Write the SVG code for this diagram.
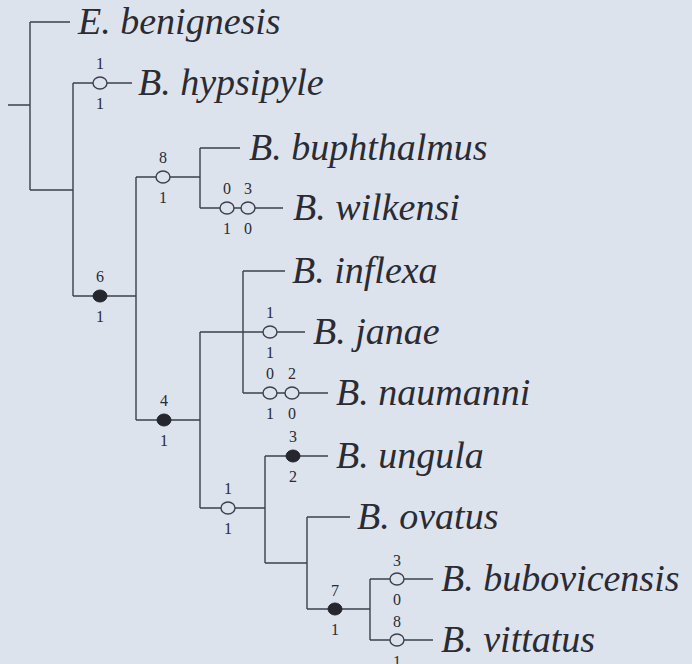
<svg xmlns="http://www.w3.org/2000/svg" width="692" height="664" viewBox="0 0 692 664">
<style>
.l{stroke:#3c3f4c;stroke-width:1.4;fill:none}
.o{stroke:#3c3f4c;stroke-width:1.4;fill:#dde3ed}
.f{fill:#25262e;stroke:#25262e;stroke-width:1}
.t{font-family:"Liberation Serif",serif;font-style:italic;font-size:38px;fill:#2a2b33}
.d{font-family:"Liberation Serif",serif;font-size:16px;fill:#2a2b33;text-anchor:middle}
</style>
<rect width="692" height="664" fill="#dde3ed"/>
<g id="connectors">
<path class="l" d="M8 105H30M30 22V190M30 22H70M30 190H73M73 83V296M73 83H132M73 296H136M136 177V420M136 177H200M200 148V208M200 148H240M200 208H283M136 420H200M200 332V508M243 271V393M243 271H285M200 332H305M243 393H328M200 508H265M265 456V563M265 456H328M265 563H307M307 517V609M307 517H350M307 609H370M370 579V640M370 579H433M370 640H433"/>
</g>
<g id="E_benignesis"><text class="t" x="78" y="34">E. benignesis</text></g>
<g id="B_hypsipyle">
<ellipse class="o" cx="100" cy="83" rx="7" ry="6"/>
<text class="d" x="100" y="69">1</text><text class="d" x="100" y="109">1</text>
<text class="t" x="138" y="95">B. hypsipyle</text></g>
<g id="node8">
<ellipse class="o" cx="163" cy="177" rx="7" ry="6"/>
<text class="d" x="163" y="163">8</text><text class="d" x="163" y="203">1</text></g>
<g id="B_buphthalmus"><text class="t" x="249" y="160">B. buphthalmus</text></g>
<g id="B_wilkensi">
<ellipse class="o" cx="227" cy="208" rx="7" ry="6"/>
<ellipse class="o" cx="248" cy="208" rx="7" ry="6"/>
<text class="d" x="227" y="194">0</text><text class="d" x="248" y="194">3</text>
<text class="d" x="227" y="234">1</text><text class="d" x="248" y="234">0</text>
<text class="t" x="293" y="220">B. wilkensi</text></g>
<g id="node6">
<ellipse class="f" cx="100" cy="296" rx="7" ry="6"/>
<text class="d" x="100" y="282">6</text><text class="d" x="100" y="322">1</text></g>
<g id="B_inflexa"><text class="t" x="292" y="283">B. inflexa</text></g>
<g id="B_janae">
<ellipse class="o" cx="270" cy="332" rx="7" ry="6"/>
<text class="d" x="270" y="318">1</text><text class="d" x="270" y="358">1</text>
<text class="t" x="313" y="344">B. janae</text></g>
<g id="B_naumanni">
<ellipse class="o" cx="270" cy="393" rx="7" ry="6"/>
<ellipse class="o" cx="292" cy="393" rx="7" ry="6"/>
<text class="d" x="270" y="379">0</text><text class="d" x="292" y="379">2</text>
<text class="d" x="270" y="419">1</text><text class="d" x="292" y="419">0</text>
<text class="t" x="336" y="405">B. naumanni</text></g>
<g id="node4">
<ellipse class="f" cx="164" cy="420" rx="7" ry="6"/>
<text class="d" x="164" y="406">4</text><text class="d" x="164" y="446">1</text></g>
<g id="B_ungula">
<ellipse class="f" cx="293" cy="456" rx="7" ry="6"/>
<text class="d" x="293" y="442">3</text><text class="d" x="293" y="482">2</text>
<text class="t" x="336" y="468">B. ungula</text></g>
<g id="node1">
<ellipse class="o" cx="228" cy="508" rx="7" ry="6"/>
<text class="d" x="228" y="494">1</text><text class="d" x="228" y="534">1</text></g>
<g id="B_ovatus"><text class="t" x="357" y="529">B. ovatus</text></g>
<g id="node7">
<ellipse class="f" cx="335" cy="609" rx="7" ry="6"/>
<text class="d" x="335" y="596">7</text><text class="d" x="335" y="635">1</text></g>
<g id="B_bubovicensis">
<ellipse class="o" cx="397" cy="579" rx="7" ry="6"/>
<text class="d" x="397" y="566">3</text><text class="d" x="397" y="605">0</text>
<text class="t" x="441" y="591">B. bubovicensis</text></g>
<g id="B_vittatus">
<ellipse class="o" cx="397" cy="640" rx="7" ry="6"/>
<text class="d" x="397" y="627">8</text><text class="d" x="397" y="667">1</text>
<text class="t" x="441" y="652">B. vittatus</text></g>
</svg>
